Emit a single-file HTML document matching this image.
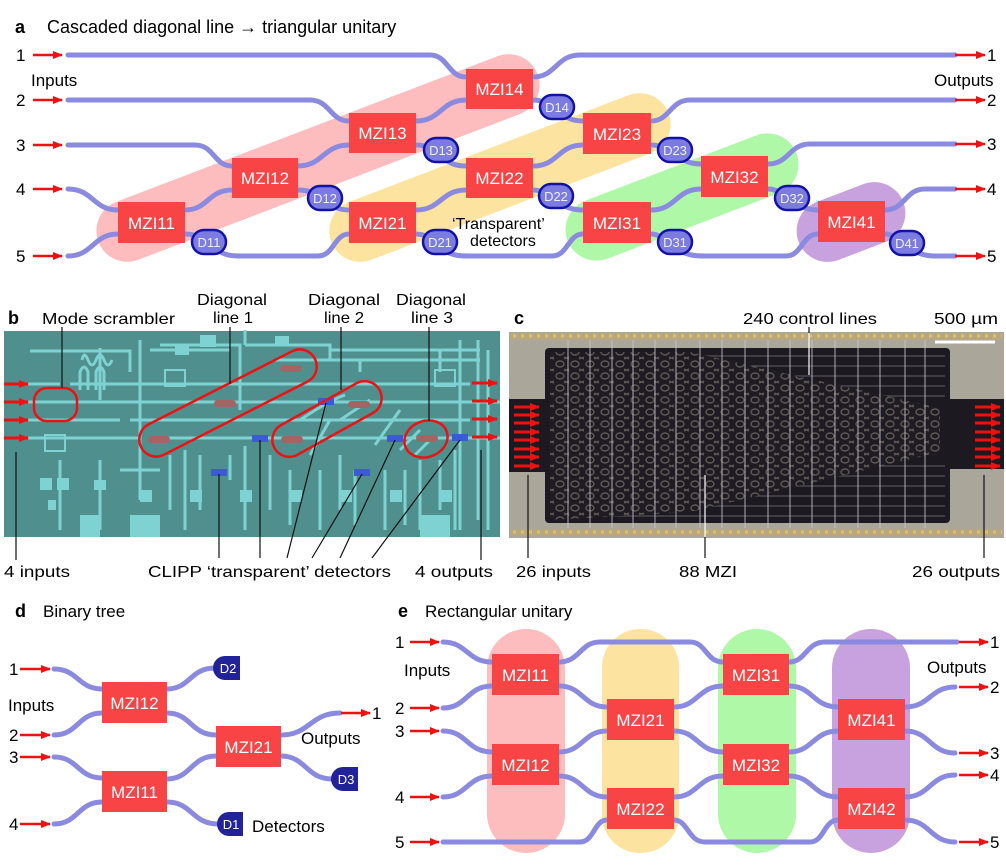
<!DOCTYPE html>
<html><head><meta charset="utf-8"><style>
html,body{margin:0;padding:0;background:#fff}
svg{display:block}
text{font-family:"Liberation Sans",Arial,sans-serif}
</style></head><body>
<svg width="1006" height="868" viewBox="0 0 1006 868" xmlns="http://www.w3.org/2000/svg">
<defs>
<marker id="ar" markerWidth="10" markerHeight="9" refX="9" refY="4.5" orient="auto" markerUnits="userSpaceOnUse"><path d="M0,0.5 L10,4.5 L0,8.5 Z" fill="#ee1111"/></marker>
<pattern id="mzi" width="15" height="12" patternUnits="userSpaceOnUse">
<rect width="15" height="12" fill="#1e1c22"/>
<ellipse cx="5" cy="4" rx="4" ry="3" fill="none" stroke="#6e6860" stroke-width="1.4" opacity="0.8"/>
<path d="M9 9 L14 11 M9 11 L14 9" stroke="#5e5850" stroke-width="1.3"/>
</pattern>
</defs>

<!-- ================= PANEL A ================= -->
<text x="15" y="33" font-size="18" font-weight="bold">a</text>
<text x="47" y="33" font-size="18">Cascaded diagonal line → triangular unitary</text>

<g>
<rect x="83" y="127" width="470" height="62" rx="31" fill="#fdbcbd" transform="rotate(-20.9 318 158)"/>
<rect x="319.5" y="146.5" width="361" height="62" rx="31" fill="#fde3a0" transform="rotate(-20.9 500 177.5)"/>
<rect x="559.5" y="166" width="245" height="62" rx="31" fill="#aef8a8" transform="rotate(-20.9 682 197)"/>
<rect x="795" y="191" width="112" height="62" rx="31" fill="#c7a2df" transform="rotate(-20.9 851 222)"/>
</g>

<g fill="none" stroke="#8a8ae0" stroke-width="5" stroke-linecap="round">
<path d="M68 55 H430 C448 55 448 77 466 77"/>
<path d="M68 100 H310 C330 100 330 121 349 121"/>
<path d="M68 145 H195 C214 145 214 166 232 166"/>
<path d="M68 189 C93 189 93 210 118 210"/>
<path d="M68 256 C93 256 93 234 118 234"/>
<path d="M185 210 C208 210 208 190 232 190"/>
<path d="M185 234 C200 234 205 242 215 248 C222 254 228 256 240 256 H318 C334 256 334 234 349 234"/>
<path d="M298 166 C323 166 323 145 349 145"/>
<path d="M298 190 C315 190 320 198 325 200 C332 206 338 210 349 210"/>
<path d="M416 121 C441 121 441 100 466 100"/>
<path d="M416 145 C430 145 436 153 441 156 C450 164 456 166 466 166"/>
<path d="M533 77 C556 77 556 55 580 55 H955"/>
<path d="M533 100 C545 100 552 107 558 110 C566 118 572 121 583 121"/>
<path d="M416 210 C441 210 441 190 466 190"/>
<path d="M416 234 C430 234 434 245 445 251 C452 255 458 256 468 256 H552 C568 256 568 234 583 234"/>
<path d="M533 166 C558 166 558 145 583 145"/>
<path d="M533 190 C545 190 550 197 556 200 C564 207 572 210 583 210"/>
<path d="M651 121 C670 121 670 100 690 100 H955"/>
<path d="M651 145 C662 145 668 150 675 154 C684 161 690 164 701 164"/>
<path d="M651 210 C676 210 676 189 701 189"/>
<path d="M651 234 C662 234 668 244 680 251 C688 255 694 256 705 256 H786 C802 256 802 234 818 234"/>
<path d="M768 164 C789 164 789 144 810 144 H955"/>
<path d="M768 189 C780 189 786 198 792 201 C800 207 808 210 818 210"/>
<path d="M885 210 C905 210 905 189 925 189 H955"/>
<path d="M885 234 C896 234 900 243 907 246 C918 254 925 256 935 256 H955"/>
</g>

<g fill="#f84444">
<rect x="118" y="202" width="67" height="41"/>
<rect x="232" y="158" width="66" height="40"/>
<rect x="349" y="113" width="67" height="40"/>
<rect x="466" y="69" width="67" height="40"/>
<rect x="349" y="202" width="67" height="41"/>
<rect x="466" y="158" width="67" height="40"/>
<rect x="583" y="113" width="68" height="41"/>
<rect x="583" y="202" width="68" height="41"/>
<rect x="701" y="156" width="67" height="41"/>
<rect x="818" y="201" width="67" height="41"/>
</g>
<g fill="#fff" font-size="17" text-anchor="middle">
<text x="151.5" y="229">MZI11</text>
<text x="265" y="184">MZI12</text>
<text x="382.5" y="139">MZI13</text>
<text x="499.5" y="95">MZI14</text>
<text x="382.5" y="229">MZI21</text>
<text x="499.5" y="184">MZI22</text>
<text x="617" y="140">MZI23</text>
<text x="617" y="229">MZI31</text>
<text x="734.5" y="183">MZI32</text>
<text x="851.5" y="228">MZI41</text>
</g>

<g fill="#7c7ce0" stroke="#1212a8" stroke-width="2.5">
<rect x="192" y="230" width="34" height="24" rx="12"/>
<rect x="308" y="186" width="34" height="24" rx="12"/>
<rect x="424" y="138" width="34" height="24" rx="12"/>
<rect x="540" y="95" width="34" height="24" rx="12"/>
<rect x="423" y="230" width="34" height="24" rx="12"/>
<rect x="539" y="184" width="34" height="24" rx="12"/>
<rect x="658" y="138" width="34" height="24" rx="12"/>
<rect x="658" y="230" width="34" height="24" rx="12"/>
<rect x="775" y="186" width="34" height="24" rx="12"/>
<rect x="890" y="231" width="34" height="24" rx="12"/>
</g>
<g fill="#eef" font-size="13" text-anchor="middle">
<text x="209" y="247">D11</text>
<text x="325" y="203">D12</text>
<text x="441" y="155">D13</text>
<text x="557" y="112">D14</text>
<text x="440" y="247">D21</text>
<text x="556" y="201">D22</text>
<text x="675" y="155">D23</text>
<text x="675" y="247">D31</text>
<text x="792" y="203">D32</text>
<text x="907" y="248">D41</text>
</g>

<text x="452" y="229" font-size="16">‘Transparent’</text>
<text x="470" y="246" font-size="16">detectors</text>

<g stroke="#ee1111" stroke-width="2.5" marker-end="url(#ar)">
<line x1="33" y1="55" x2="62" y2="55"/>
<line x1="33" y1="100" x2="62" y2="100"/>
<line x1="33" y1="145" x2="62" y2="145"/>
<line x1="33" y1="189" x2="62" y2="189"/>
<line x1="33" y1="256" x2="62" y2="256"/>
<line x1="955" y1="55" x2="985" y2="55"/>
<line x1="955" y1="100" x2="985" y2="100"/>
<line x1="955" y1="144" x2="985" y2="144"/>
<line x1="955" y1="189" x2="985" y2="189"/>
<line x1="955" y1="256" x2="985" y2="256"/>
</g>
<g font-size="17">
<text x="16" y="61">1</text><text x="16" y="106">2</text><text x="16" y="151">3</text><text x="16" y="195">4</text><text x="16" y="262">5</text>
<text x="987" y="61">1</text><text x="987" y="106">2</text><text x="987" y="150">3</text><text x="987" y="195">4</text><text x="987" y="262">5</text>
<text x="31" y="86" font-size="17">Inputs</text>
<text x="934" y="86" font-size="17">Outputs</text>
</g>

<!-- ================= PANEL B ================= -->
<text x="8" y="324" font-size="18" font-weight="bold">b</text>
<g font-size="16">
<text x="42" y="324" textLength="133" lengthAdjust="spacingAndGlyphs">Mode scrambler</text>
<text x="197" y="305" textLength="70" lengthAdjust="spacingAndGlyphs">Diagonal</text>
<text x="213" y="323" textLength="40" lengthAdjust="spacingAndGlyphs">line 1</text>
<text x="308" y="305" textLength="72" lengthAdjust="spacingAndGlyphs">Diagonal</text>
<text x="324" y="323" textLength="40" lengthAdjust="spacingAndGlyphs">line 2</text>
<text x="396" y="305" textLength="70" lengthAdjust="spacingAndGlyphs">Diagonal</text>
<text x="411" y="323" textLength="42" lengthAdjust="spacingAndGlyphs">line 3</text>
<text x="4" y="577" textLength="66" lengthAdjust="spacingAndGlyphs">4 inputs</text>
<text x="148" y="577" textLength="243" lengthAdjust="spacingAndGlyphs">CLIPP ‘transparent’ detectors</text>
<text x="415" y="577" textLength="78" lengthAdjust="spacingAndGlyphs">4 outputs</text>
</g>
<rect x="4" y="331" width="496" height="206" fill="#4f8f8d"/>
<g fill="none" stroke="#7fd2d2" stroke-width="3">
<path d="M4 384 H60 M4 402 H130 M4 420 H120 M4 438 H140"/>
<path d="M120 402 H500 M130 420 H470 M150 438 H500 M70 384 H470"/>
<path d="M30 351 H130 V372 M100 348 V400 M140 340 V500 M160 345 H240 V410"/>
<path d="M82 360 Q84 350 88 360 Q92 370 96 360 Q100 350 104 360 Q108 370 112 360"/>
<path d="M80 390 V372 Q84 362 88 372 V390 M96 390 V372 Q100 362 104 372 V390"/>
<path d="M150 350 H230 M245 345 V330 M245 345 H330 V360 M275 360 H420 M330 355 V350 H480"/>
<path d="M360 360 V372 M420 360 H480 M440 350 V372 M460 340 V530"/>
<path d="M170 455 V510 M185 450 V530 M200 455 V510 M230 455 V480 M245 446 V530 M270 455 V510"/>
<path d="M290 470 V525 M310 455 L330 420 M320 470 V530 M340 455 V510 M355 470 V525 M375 445 L400 410 M385 470 V530"/>
<path d="M405 470 V525 M420 460 V530 M440 460 V510 M455 450 V530 M478 340 V520 M488 350 V530"/>
<path d="M100 460 V530 M120 470 H160 M60 460 V530"/>
<path d="M300 420 Q330 400 345 395 M340 420 L370 400 M400 450 L420 430 M415 455 L430 440"/>
</g>
<g fill="#7fd2d2">
<rect x="40" y="478" width="12" height="12"/><rect x="57" y="478" width="12" height="12"/>
<rect x="48" y="500" width="8" height="10"/><rect x="175" y="345" width="14" height="10"/>
<rect x="200" y="335" width="16" height="12"/><rect x="275" y="336" width="14" height="10"/>
<rect x="94" y="480" width="12" height="10"/><rect x="140" y="490" width="12" height="12"/>
<rect x="190" y="490" width="12" height="12"/><rect x="240" y="490" width="12" height="12"/>
<rect x="290" y="490" width="12" height="12"/><rect x="340" y="490" width="12" height="12"/>
<rect x="390" y="490" width="12" height="12"/><rect x="440" y="490" width="12" height="12"/>
<rect x="80" y="515" width="20" height="22"/><rect x="130" y="515" width="30" height="22"/>
<rect x="420" y="515" width="30" height="22"/>
<rect x="165" y="370" width="20" height="16" fill="none" stroke="#7fd2d2" stroke-width="2"/>
<rect x="45" y="435" width="20" height="16" fill="none" stroke="#7fd2d2" stroke-width="2"/>
<rect x="435" y="370" width="20" height="16" fill="none" stroke="#7fd2d2" stroke-width="2"/>
</g>
<g fill="#a46464">
<rect x="148" y="436" width="22" height="7" rx="3.5"/>
<rect x="214" y="400" width="22" height="7" rx="3.5"/>
<rect x="280" y="365" width="22" height="7" rx="3.5"/>
<rect x="281" y="436" width="22" height="7" rx="3.5"/>
<rect x="348" y="401" width="22" height="7" rx="3.5"/>
<rect x="416" y="435" width="22" height="7" rx="3.5"/>
</g>
<g fill="#3a5ad8">
<rect x="318" y="398" width="16" height="7"/>
<rect x="252" y="435" width="16" height="7"/>
<rect x="211" y="469" width="16" height="7"/>
<rect x="387" y="435" width="16" height="7"/>
<rect x="354" y="469" width="16" height="7"/>
<rect x="452" y="434" width="16" height="7"/>
</g>
<g fill="none" stroke="#ee1111" stroke-width="2.5">
<rect x="34" y="388" width="43" height="33" rx="13"/>
<rect x="130.5" y="386" width="195" height="34" rx="17" transform="rotate(-27 228 403)"/>
<rect x="267" y="402" width="120" height="34" rx="17" transform="rotate(-29 327 419)"/>
<ellipse cx="426" cy="439" rx="22" ry="18" transform="rotate(-20 426 439)"/>
</g>
<g stroke="#ee1111" stroke-width="3" marker-end="url(#ar)">
<line x1="4" y1="384" x2="28" y2="384"/><line x1="4" y1="402" x2="28" y2="402"/>
<line x1="4" y1="420" x2="28" y2="420"/><line x1="4" y1="438" x2="28" y2="438"/>
<line x1="472" y1="383" x2="497" y2="383"/><line x1="472" y1="401" x2="497" y2="401"/>
<line x1="472" y1="419" x2="497" y2="419"/><line x1="472" y1="437" x2="497" y2="437"/>
</g>
<g stroke="#111" stroke-width="1.2">
<line x1="62" y1="327" x2="62" y2="388"/>
<line x1="230" y1="327" x2="230" y2="384"/>
<line x1="341" y1="327" x2="341" y2="390"/>
<line x1="429" y1="327" x2="429" y2="421"/>
<line x1="16" y1="452" x2="16" y2="560"/>
<line x1="481" y1="450" x2="481" y2="560"/>
<line x1="219" y1="474" x2="219" y2="558"/>
<line x1="260" y1="440" x2="260" y2="558"/>
<line x1="326" y1="403" x2="287" y2="558"/>
<line x1="362" y1="474" x2="312" y2="558"/>
<line x1="395" y1="440" x2="340" y2="558"/>
<line x1="460" y1="440" x2="372" y2="558"/>
</g>

<!-- ================= PANEL C ================= -->
<text x="514" y="324" font-size="18" font-weight="bold">c</text>
<g font-size="16">
<text x="743" y="324" textLength="134" lengthAdjust="spacingAndGlyphs">240 control lines</text>
<text x="934" y="324" textLength="64" lengthAdjust="spacingAndGlyphs">500 µm</text>
<text x="516" y="577" textLength="75" lengthAdjust="spacingAndGlyphs">26 inputs</text>
<text x="679" y="577" textLength="58" lengthAdjust="spacingAndGlyphs">88 MZI</text>
<text x="912" y="577" textLength="88" lengthAdjust="spacingAndGlyphs">26 outputs</text>
</g>
<rect x="509" y="332" width="495" height="206" fill="#aaa699"/>
<rect x="511" y="333" width="491" height="7" fill="#b8a880"/>
<rect x="511" y="529" width="491" height="7" fill="#b8a880"/>
<g stroke="#e0c070" stroke-width="3" stroke-dasharray="3 5">
<line x1="513" y1="336" x2="1002" y2="336"/>
<line x1="513" y1="532" x2="1002" y2="532"/>
</g>
<rect x="545" y="348" width="405" height="175" rx="4" fill="#1c1a20"/>
<rect x="509" y="399" width="40" height="73" fill="#1c1a20"/>
<rect x="946" y="399" width="58" height="70" fill="#1c1a20"/>
<g stroke="#55525a" stroke-width="1.2">
<line x1="560" y1="356" x2="945" y2="356"/><line x1="560" y1="366" x2="945" y2="366"/>
<line x1="560" y1="376" x2="945" y2="376"/><line x1="560" y1="386" x2="945" y2="386"/>
<line x1="560" y1="396" x2="945" y2="396"/><line x1="560" y1="466" x2="945" y2="466"/>
<line x1="560" y1="476" x2="945" y2="476"/><line x1="560" y1="486" x2="945" y2="486"/>
<line x1="560" y1="496" x2="945" y2="496"/><line x1="560" y1="506" x2="945" y2="506"/>
<line x1="560" y1="516" x2="945" y2="516"/>
</g>
<polygon points="550,352 690,352 940,408 940,452 690,512 550,520" fill="url(#mzi)"/>
<g stroke="#c8c6d0" stroke-width="1.2" opacity="0.7">
<line x1="568" y1="340" x2="568" y2="528"/><line x1="590" y1="340" x2="590" y2="528"/>
<line x1="612" y1="340" x2="612" y2="528"/><line x1="633" y1="340" x2="633" y2="528"/>
<line x1="655" y1="340" x2="655" y2="528"/><line x1="676" y1="340" x2="676" y2="528"/>
<line x1="700" y1="340" x2="700" y2="528"/><line x1="722" y1="340" x2="722" y2="528"/>
<line x1="745" y1="340" x2="745" y2="528"/><line x1="768" y1="340" x2="768" y2="528"/>
<line x1="790" y1="340" x2="790" y2="528"/><line x1="812" y1="340" x2="812" y2="528"/>
<line x1="835" y1="340" x2="835" y2="528"/><line x1="858" y1="340" x2="858" y2="528"/>
<line x1="880" y1="340" x2="880" y2="528"/><line x1="905" y1="340" x2="905" y2="528"/>
<line x1="925" y1="340" x2="925" y2="528"/>
</g>
<line x1="935" y1="342" x2="995" y2="342" stroke="#fff" stroke-width="3"/>
<g stroke="#ee1111" stroke-width="3" marker-end="url(#ar)">
<line x1="514" y1="407" x2="539" y2="407"/><line x1="514" y1="415" x2="539" y2="415"/>
<line x1="514" y1="423" x2="539" y2="423"/><line x1="514" y1="432" x2="539" y2="432"/>
<line x1="514" y1="440" x2="539" y2="440"/><line x1="514" y1="449" x2="539" y2="449"/>
<line x1="514" y1="457" x2="539" y2="457"/><line x1="514" y1="466" x2="539" y2="466"/>
<line x1="975" y1="407" x2="1000" y2="407"/><line x1="975" y1="415" x2="1000" y2="415"/>
<line x1="975" y1="423" x2="1000" y2="423"/><line x1="975" y1="432" x2="1000" y2="432"/>
<line x1="975" y1="440" x2="1000" y2="440"/><line x1="975" y1="449" x2="1000" y2="449"/>
<line x1="975" y1="457" x2="1000" y2="457"/><line x1="975" y1="466" x2="1000" y2="466"/>
</g>
<g stroke="#111" stroke-width="1.2">
<line x1="809" y1="327" x2="809" y2="375" stroke="#fff"/>
<line x1="809" y1="327" x2="809" y2="333"/>
<line x1="705" y1="475" x2="705" y2="558" stroke="#fff"/>
<line x1="705" y1="537" x2="705" y2="558"/>
<line x1="528" y1="475" x2="528" y2="558"/>
<line x1="984" y1="475" x2="984" y2="558"/>
</g>

<!-- ================= PANEL D ================= -->
<text x="15" y="617" font-size="18" font-weight="bold">d</text>
<text x="43" y="617" font-size="17">Binary tree</text>
<g fill="none" stroke="#8a8ae0" stroke-width="5" stroke-linecap="round">
<path d="M54 669 C78 669 78 689 102 689"/>
<path d="M54 735 C78 735 78 713 102 713"/>
<path d="M167 689 C190 689 190 668 215 668"/>
<path d="M167 713 C191 713 191 735 216 735"/>
<path d="M54 757 C78 757 78 778 102 778"/>
<path d="M54 824 C78 824 78 802 102 802"/>
<path d="M167 779 C191 779 191 756 216 756"/>
<path d="M167 802 C192 802 192 824 218 824"/>
<path d="M281 735 C310 735 310 713 340 713"/>
<path d="M281 756 C306 756 306 779 332 779"/>
</g>
<g fill="#f84444">
<rect x="102" y="682" width="65" height="41"/>
<rect x="216" y="726" width="65" height="41"/>
<rect x="102" y="771" width="65" height="41"/>
</g>
<g fill="#fff" font-size="17" text-anchor="middle">
<text x="134.5" y="709">MZI12</text>
<text x="248.5" y="753">MZI21</text>
<text x="134.5" y="798">MZI11</text>
</g>
<g fill="#22229a">
<path d="M225 656 H240 V680 H225 A12 12 0 0 1 225 656 Z"/>
<path d="M343 767 H358 V791 H343 A12 12 0 0 1 343 767 Z"/>
<path d="M229 812 H243 V836 H229 A12 12 0 0 1 229 812 Z"/>
</g>
<g fill="#fff" font-size="13" text-anchor="middle">
<text x="228" y="673">D2</text><text x="346" y="784">D3</text><text x="231" y="829">D1</text>
</g>
<g stroke="#ee1111" stroke-width="2.5" marker-end="url(#ar)">
<line x1="20" y1="669" x2="50" y2="669"/><line x1="20" y1="735" x2="50" y2="735"/>
<line x1="20" y1="757" x2="50" y2="757"/><line x1="20" y1="824" x2="50" y2="824"/>
<line x1="341" y1="713" x2="370" y2="713"/>
</g>
<g font-size="17">
<text x="9" y="675">1</text><text x="9" y="741">2</text><text x="9" y="763">3</text><text x="9" y="830">4</text>
<text x="372" y="719">1</text>
<text x="8" y="711">Inputs</text>
<text x="301" y="744">Outputs</text>
<text x="252" y="832">Detectors</text>
</g>

<!-- ================= PANEL E ================= -->
<text x="398" y="617" font-size="18" font-weight="bold">e</text>
<text x="425" y="617" font-size="17">Rectangular unitary</text>
<g>
<rect x="487" y="629" width="78" height="224" rx="39" fill="#fdbcbd"/>
<rect x="602" y="629" width="77" height="224" rx="38" fill="#fde3a0"/>
<rect x="718" y="629" width="78" height="224" rx="39" fill="#aef8a8"/>
<rect x="832" y="629" width="78" height="224" rx="39" fill="#c7a2df"/>
</g>
<g fill="none" stroke="#8a8ae0" stroke-width="5" stroke-linecap="round">
<path d="M443 642 C467 642 467 662 492 662"/>
<path d="M443 708 C467 708 467 686 492 686"/>
<path d="M443 731 C467 731 467 752 492 752"/>
<path d="M443 797 C467 797 467 776 492 776"/>
<path d="M443 842 H580 C594 842 594 820 607 820"/>
<path d="M559 662 C580 662 580 642 600 642 H690 C706 642 706 662 723 662"/>
<path d="M559 686 C583 686 583 707 607 707"/>
<path d="M559 752 C583 752 583 731 607 731"/>
<path d="M559 776 C583 776 583 797 607 797"/>
<path d="M674 707 C698 707 698 686 723 686"/>
<path d="M674 731 C698 731 698 752 723 752"/>
<path d="M674 797 C698 797 698 776 723 776"/>
<path d="M674 820 C688 820 688 842 705 842 H810 C824 842 824 820 838 820"/>
<path d="M789 662 C806 662 806 642 825 642 H957"/>
<path d="M789 686 C813 686 813 707 838 707"/>
<path d="M789 752 C813 752 813 731 838 731"/>
<path d="M789 776 C813 776 813 797 838 797"/>
<path d="M905 707 C930 707 930 687 955 687"/>
<path d="M905 731 C930 731 930 753 955 753"/>
<path d="M905 797 C930 797 930 775 955 775"/>
<path d="M905 820 C930 820 930 842 955 842"/>
</g>
<g fill="#f84444">
<rect x="492" y="654" width="67" height="41"/>
<rect x="492" y="744" width="67" height="41"/>
<rect x="607" y="699" width="67" height="41"/>
<rect x="607" y="788" width="67" height="41"/>
<rect x="723" y="654" width="66" height="41"/>
<rect x="723" y="744" width="66" height="41"/>
<rect x="838" y="699" width="67" height="41"/>
<rect x="838" y="788" width="67" height="41"/>
</g>
<g fill="#fff" font-size="17" text-anchor="middle">
<text x="525.5" y="681">MZI11</text>
<text x="525.5" y="771">MZI12</text>
<text x="640.5" y="726">MZI21</text>
<text x="640.5" y="815">MZI22</text>
<text x="756" y="681">MZI31</text>
<text x="756" y="771">MZI32</text>
<text x="871.5" y="726">MZI41</text>
<text x="871.5" y="815">MZI42</text>
</g>
<g stroke="#ee1111" stroke-width="2.5" marker-end="url(#ar)">
<line x1="410" y1="642" x2="439" y2="642"/><line x1="410" y1="708" x2="439" y2="708"/>
<line x1="410" y1="731" x2="439" y2="731"/><line x1="410" y1="797" x2="439" y2="797"/>
<line x1="410" y1="842" x2="439" y2="842"/>
<line x1="959" y1="642" x2="988" y2="642"/><line x1="959" y1="687" x2="988" y2="687"/>
<line x1="959" y1="753" x2="988" y2="753"/><line x1="959" y1="775" x2="988" y2="775"/>
<line x1="959" y1="842" x2="988" y2="842"/>
</g>
<g font-size="17">
<text x="395" y="648">1</text><text x="395" y="714">2</text><text x="395" y="737">3</text><text x="395" y="803">4</text><text x="395" y="848">5</text>
<text x="990" y="648">1</text><text x="990" y="693">2</text><text x="990" y="759">3</text><text x="990" y="781">4</text><text x="990" y="848">5</text>
<text x="404" y="676">Inputs</text>
<text x="927" y="673">Outputs</text>
</g>
</svg>
</body></html>
